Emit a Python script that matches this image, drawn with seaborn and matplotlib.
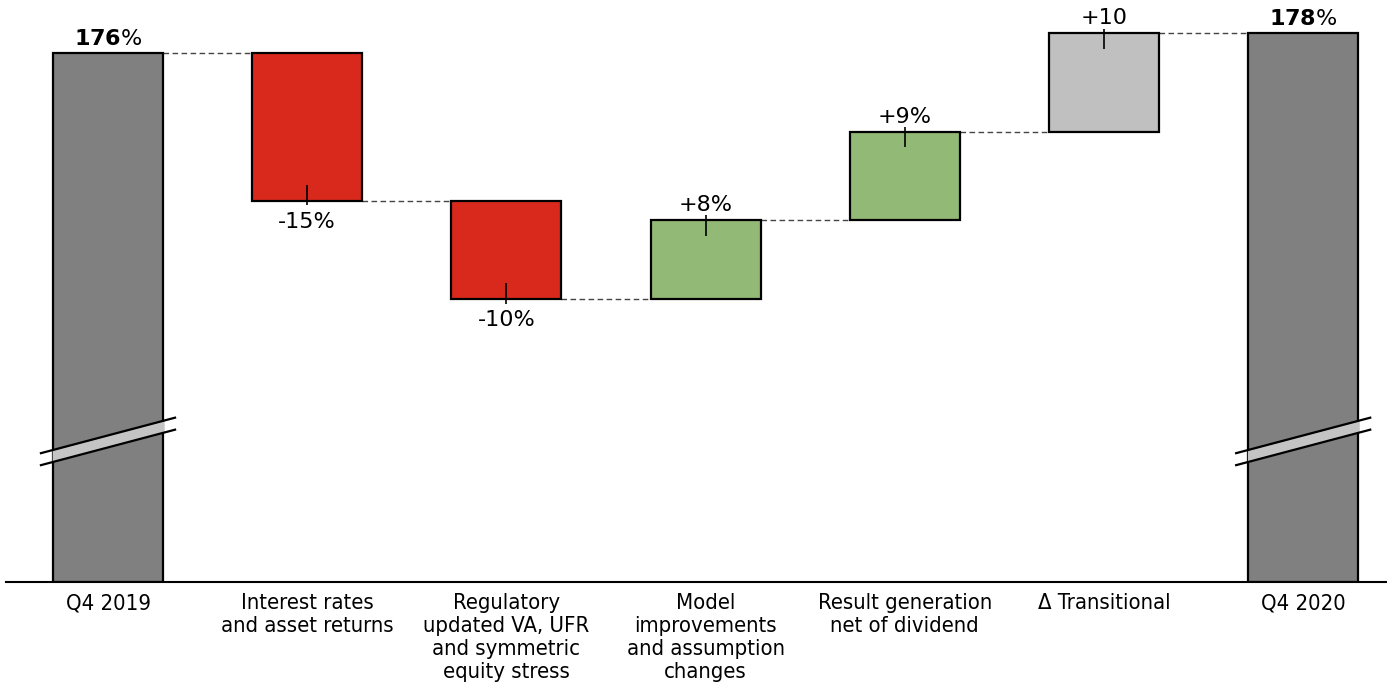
import numpy as np
import pandas as pd
import matplotlib
matplotlib.use("Agg")
import matplotlib.pyplot as plt
import seaborn as sns

# Solvency ratio bridge, Q4 2019 -> Q4 2020
categories = [
    "Q4 2019",
    "Interest rates\nand asset returns",
    "Regulatory\nupdated VA, UFR\nand symmetric\nequity stress",
    "Model\nimprovements\nand assumption\nchanges",
    "Result generation\nnet of dividend",
    "Δ Transitional",
    "Q4 2020",
]
start_ratio = 176
end_ratio = 178
changes = [-15, -10, 8, 9, 10]
change_labels = ["-15%", "-10%", "+8%", "+9%", "+10"]
total_labels = [r"$\mathbf{176}$%", r"$\mathbf{178}$%"]

bar_colors = ["#808080", "#d9291c", "#d9291c", "#93b976", "#93b976", "#c0c0c0", "#808080"]

y_floor, y_top = 122.2, 181.4
bar_width = 0.553

# floating bar geometry
bottoms, heights, levels = [y_floor], [start_ratio - y_floor], [start_ratio]
running = start_ratio
for c in changes:
    bottoms.append(min(running, running + c))
    heights.append(abs(c))
    running += c
    levels.append(running)
bottoms.append(y_floor)
heights.append(end_ratio - y_floor)
levels.append(end_ratio)

df = pd.DataFrame({"category": categories, "height": heights, "bottom": bottoms})

sns.set_theme(style="white")
plt.rcParams["font.family"] = ["DejaVu Sans"]
plt.rcParams["mathtext.fontset"] = "dejavusans"

fig = plt.figure(figsize=(13.87, 6.87), dpi=100)
ax = fig.add_axes([0, 1 - 582 / 687, 1, 582 / 687])

sns.barplot(data=df, x="category", y="height", bottom=df["bottom"].values,
            order=categories, color="#808080", width=bar_width, errorbar=None,
            edgecolor="black", linewidth=1.6, saturation=1, ax=ax, zorder=2)
for patch, col in zip(ax.patches, bar_colors):
    patch.set_facecolor(col)

half = bar_width / 2

# dashed connectors between consecutive bars
for i in range(len(categories) - 1):
    ax.hlines(levels[i], i + half, i + 1 - half, colors="#444444",
              linewidth=1, linestyles=(0, (4, 2.5)), zorder=1)

# totals: bold value above the bar
for idx, lab in zip([0, len(categories) - 1], total_labels):
    ax.annotate(lab, (idx, levels[idx]), xytext=(0, 6), textcoords="offset points",
                ha="center", va="baseline", fontsize=16, color="black")

# changes: label above (increase) or below (decrease) with a short pointer tick
for k, (c, lab) in enumerate(zip(changes, change_labels)):
    i = k + 1
    edge = levels[i]
    if c > 0:
        ax.vlines(i, edge - 1.6, edge + 0.5, colors="black", linewidth=1.2, zorder=3)
        ax.annotate(lab, (i, edge), xytext=(0, 6.5), textcoords="offset points",
                    ha="center", va="baseline", fontsize=16, color="black")
    else:
        ax.vlines(i, edge - 0.5, edge + 1.6, colors="black", linewidth=1.2, zorder=3)
        ax.annotate(lab, (i, edge), xytext=(0, -19.5), textcoords="offset points",
                    ha="center", va="baseline", fontsize=16, color="black")

# axis-break marks on the two total bars
yc, gap, slope, reach = 136.5, 0.61, 5.36, 0.342
for idx in [0, len(categories) - 1]:
    xs_band = np.linspace(idx - half - 0.004, idx + half + 0.004, 50)
    ax.fill_between(xs_band, yc - gap + slope * (xs_band - idx),
                    yc + gap + slope * (xs_band - idx),
                    color="#c4c4c4", linewidth=0, zorder=4)
    xs = np.array([idx - reach, idx + reach])
    for off in (-gap, gap):
        ax.plot(xs, yc + off + slope * (xs - idx), color="black", linewidth=1.6,
                solid_capstyle="butt", zorder=5)

ax.set_xlim(-108 / 199.2, (1387 - 108) / 199.2)
ax.set_ylim(y_floor, y_top)
ax.set_yticks([])
ax.set_xlabel("")
ax.set_ylabel("")
for s in ["left", "top", "right"]:
    ax.spines[s].set_visible(False)
ax.spines["bottom"].set_color("black")
ax.spines["bottom"].set_linewidth(1.5)
ax.spines["bottom"].set_bounds(-0.512, 6.42)
ax.tick_params(axis="x", length=0, pad=8)
ax.set_xticks(range(len(categories)))
ax.set_xticklabels(categories, fontsize=15.8, linespacing=1.19,
                   fontstretch="condensed", color="black")

fig.savefig("out.png", dpi=100, facecolor="white")
